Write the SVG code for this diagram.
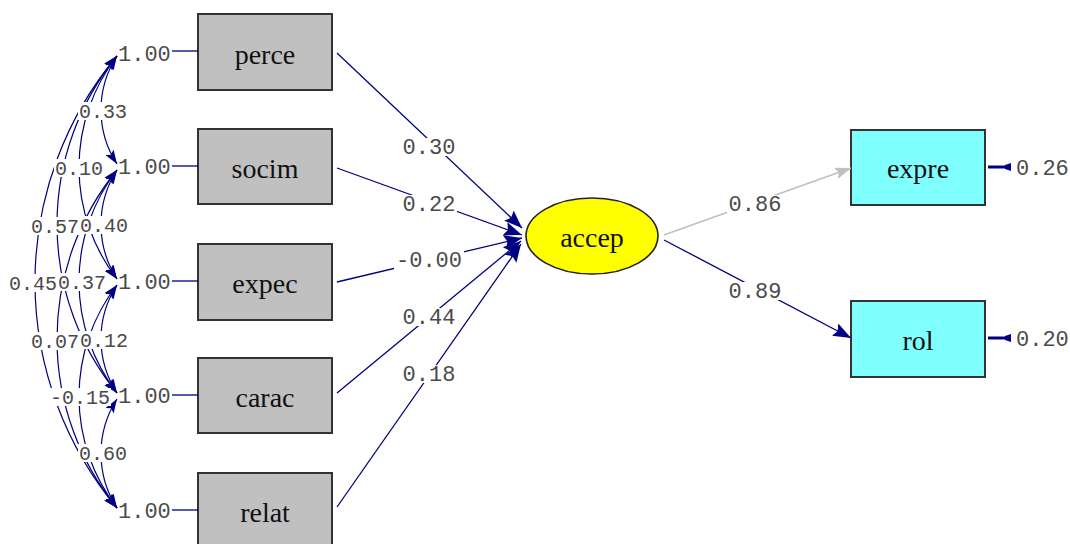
<svg xmlns="http://www.w3.org/2000/svg" width="1070" height="544" viewBox="0 0 1070 544">
<style>
.box{fill:#c0c0c0;stroke:#333;stroke-width:2}
.obs{fill:#80ffff;stroke:#333;stroke-width:2}
.lat{fill:#ffff00;stroke:#222;stroke-width:1.6}
.name{font-family:"Liberation Serif","Times New Roman",serif;font-size:28px;fill:#111;text-anchor:middle}
.num{font-family:"Liberation Mono","Courier New",monospace;font-size:22px;fill:#4a4a4a}
.sm{font-size:20px}
.lab{text-anchor:middle}
.ln{fill:none;stroke:#000080;stroke-width:1.3}
.arc{fill:none;stroke:#000080;stroke-width:1.2;marker-start:url(#ah);marker-end:url(#ah)}
.path{fill:none;stroke:#000080;stroke-width:1.3;marker-end:url(#big)}
.bg{fill:#fff}
</style>
<defs>
<marker id="ah" markerUnits="userSpaceOnUse" viewBox="0 0 14 10" refX="14" refY="5" markerWidth="14" markerHeight="10" orient="auto-start-reverse">
<path d="M0,0 L14,5 L0,10 L3,5 z" fill="#000080"/>
</marker>
<marker id="big" markerUnits="userSpaceOnUse" viewBox="0 0 18 14" refX="18" refY="7" markerWidth="18" markerHeight="14" orient="auto">
<path d="M0,0 L18,7 L0,14 L3,7 z" fill="#000080"/>
</marker>
<marker id="gray" markerUnits="userSpaceOnUse" viewBox="0 0 16 12" refX="16" refY="6" markerWidth="16" markerHeight="12" orient="auto">
<path d="M0,0 L16,6 L0,12 L3,6 z" fill="#c0c0c0"/>
</marker>
<marker id="err" markerUnits="userSpaceOnUse" viewBox="0 0 10 10" refX="5" refY="5" markerWidth="10" markerHeight="10" orient="auto">
<path d="M2,1 L8,3 L8,7 L2,9 z" fill="#000080"/>
</marker>
</defs>

<g id="perce">
<rect class="box" x="198" y="14" width="134" height="76"/>
<text class="name" x="265" y="64">perce</text>
<line class="ln" x1="172" y1="51" x2="198" y2="51"/>
<text class="num" x="118" y="61">1.00</text>
</g>
<g id="socim">
<rect class="box" x="198" y="129" width="134" height="75"/>
<text class="name" x="265" y="178">socim</text>
<line class="ln" x1="172" y1="166" x2="198" y2="166"/>
<text class="num" x="118" y="174">1.00</text>
</g>
<g id="expec">
<rect class="box" x="198" y="244" width="134" height="76"/>
<text class="name" x="265" y="293">expec</text>
<line class="ln" x1="172" y1="281" x2="198" y2="281"/>
<text class="num" x="118" y="289">1.00</text>
</g>
<g id="carac">
<rect class="box" x="198" y="358" width="134" height="75"/>
<text class="name" x="265" y="407">carac</text>
<line class="ln" x1="172" y1="395" x2="198" y2="395"/>
<text class="num" x="118" y="403">1.00</text>
</g>
<g id="relat">
<rect class="box" x="198" y="473" width="134" height="76"/>
<text class="name" x="265" y="522">relat</text>
<line class="ln" x1="172" y1="510" x2="198" y2="510"/>
<text class="num" x="118" y="518">1.00</text>
</g>
<g id="accep">
<ellipse class="lat" cx="592" cy="236" rx="66" ry="38"/>
<text class="name" x="592" y="247">accep</text>
</g>
<g id="expre">
<rect class="obs" x="851" y="130" width="134" height="75"/>
<text class="name" x="918" y="178">expre</text>
</g>
<g id="rol">
<rect class="obs" x="851" y="301" width="134" height="76"/>
<text class="name" x="918" y="350">rol</text>
</g>

<g id="connectors">
<path class="arc" d="M117,56 A99.1,99.1 0 0 0 117,164"/>
<path class="arc" d="M117,170 A100.8,100.8 0 0 0 117,279"/>
<path class="arc" d="M117,285 A99.1,99.1 0 0 0 117,393"/>
<path class="arc" d="M117,399 A100.8,100.8 0 0 0 117,508"/>
<path class="arc" d="M117,56 A182.6,182.6 0 0 0 117,279"/>
<path class="arc" d="M117,170 A182.6,182.6 0 0 0 117,393"/>
<path class="arc" d="M117,285 A182.6,182.6 0 0 0 117,508"/>
<path class="arc" d="M117,56 A266.6,266.6 0 0 0 117,393"/>
<path class="arc" d="M117,170 A268,268 0 0 0 117,508"/>
<path class="arc" d="M117,56 A352.4,352.4 0 0 0 117,508"/>

<path class="path" d="M337,53 L522,228"/>
<path class="path" d="M337,168 L522,235"/>
<path class="path" d="M337,282 L522,238"/>
<path class="path" d="M337,393 L521,241"/>
<path class="path" d="M337,507 L521,244"/>

<path d="M664,235 L851,168" fill="none" stroke="#c0c0c0" stroke-width="1.6" marker-end="url(#gray)"/>
<path class="path" d="M664,240 L851,338"/>

<path d="M1008,167 L988,167" fill="none" stroke="#000080" stroke-width="3" marker-start="url(#err)"/>
<path d="M1008,338 L988,338" fill="none" stroke="#000080" stroke-width="3" marker-start="url(#err)"/>
</g>

<g id="labels" class="num">
<rect class="bg" x="401" y="138" width="56" height="18"/><text class="lab" x="429" y="154">0.30</text>
<rect class="bg" x="401" y="195" width="56" height="18"/><text class="lab" x="429" y="211">0.22</text>
<rect class="bg" x="394" y="251" width="70" height="18"/><text class="lab" x="429" y="267">-0.00</text>
<rect class="bg" x="401" y="308" width="56" height="18"/><text class="lab" x="429" y="324">0.44</text>
<rect class="bg" x="401" y="365" width="56" height="18"/><text class="lab" x="429" y="381">0.18</text>
<rect class="bg" x="727" y="195" width="56" height="18"/><text class="lab" x="755" y="211">0.86</text>
<rect class="bg" x="727" y="282" width="56" height="18"/><text class="lab" x="755" y="298">0.89</text>

<rect class="bg" x="78" y="102" width="50" height="18"/><text class="lab sm" x="103" y="118">0.33</text>
<rect class="bg" x="79" y="216" width="50" height="18"/><text class="lab sm" x="104" y="232">0.40</text>
<rect class="bg" x="79" y="331" width="50" height="18"/><text class="lab sm" x="104" y="347">0.12</text>
<rect class="bg" x="78" y="444" width="50" height="18"/><text class="lab sm" x="103" y="460">0.60</text>
<rect class="bg" x="54" y="159" width="50" height="18"/><text class="lab sm" x="79" y="175">0.10</text>
<rect class="bg" x="58" y="273" width="49" height="18"/><text class="lab sm" x="82" y="289">0.37</text>
<rect class="bg" x="49" y="388" width="62" height="18"/><text class="lab sm" x="80" y="404">-0.15</text>
<rect class="bg" x="31" y="217" width="48" height="18"/><text class="lab sm" x="55" y="233">0.57</text>
<rect class="bg" x="31" y="332" width="48" height="18"/><text class="lab sm" x="55" y="348">0.07</text>
<rect class="bg" x="9" y="274" width="48" height="18"/><text class="lab sm" x="33" y="290">0.45</text>
<text x="1016" y="175">0.26</text>
<text x="1016" y="346">0.20</text>
</g>
</svg>
